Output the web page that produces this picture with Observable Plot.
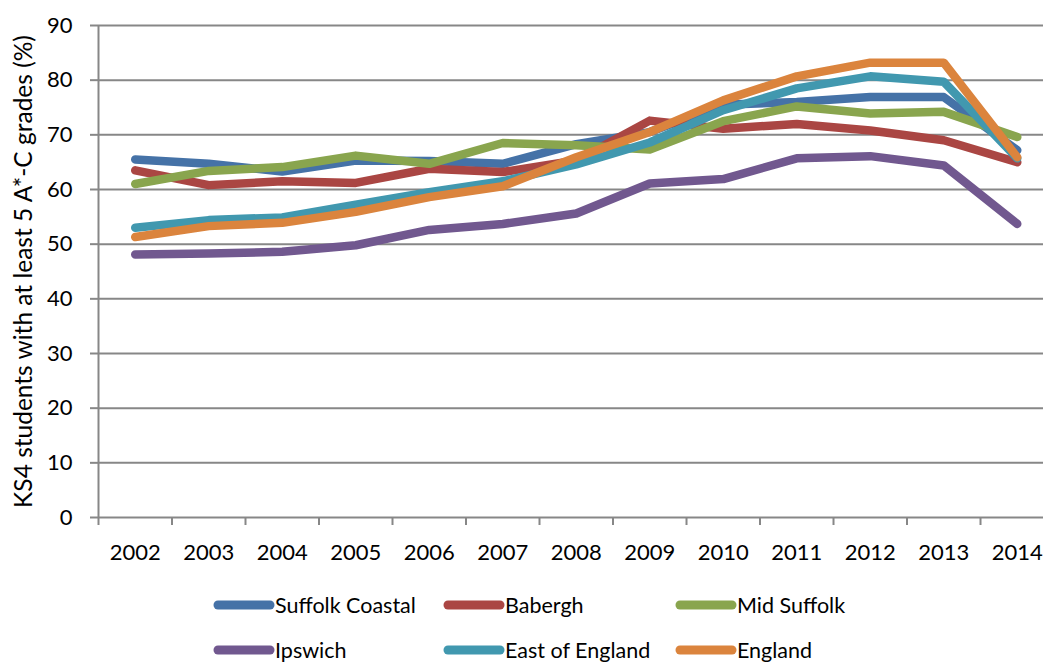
<!DOCTYPE html>
<html><head><meta charset="utf-8">
<script src="https://cdn.jsdelivr.net/npm/d3@7"></script>
<script src="https://cdn.jsdelivr.net/npm/@observablehq/plot@0.6"></script>
<style>
body{margin:0;background:#fff;font-family:Lato,sans-serif;}
#legend{position:relative;width:1043px;height:89px;}
.item{position:absolute;display:flex;align-items:center;font-size:21.5px;color:#000;height:30px;white-space:nowrap;}
.item svg{display:block;}
</style></head><body><div id="chart"></div><div id="legend"></div>
<script>
const years = [2002,2003,2004,2005,2006,2007,2008,2009,2010,2011,2012,2013,2014];
const seriesNames = ["Suffolk Coastal","Babergh","Mid Suffolk","Ipswich","East of England","England"];
const suffolkCoastal = [65.5,64.7,63.3,65.3,65.2,64.7,68.3,70.5,75.5,76.0,76.9,76.9,67.2];
const babergh        = [63.5,60.8,61.5,61.2,63.8,63.2,65.3,72.6,71.1,72.0,70.8,69.0,65.0];
const midSuffolk     = [61.0,63.4,64.1,66.2,64.7,68.5,68.1,67.3,72.5,75.2,73.9,74.2,69.6];
const ipswich        = [48.1,48.3,48.6,49.8,52.6,53.7,55.6,61.1,61.9,65.7,66.1,64.4,53.7];
const eastOfEngland  = [53.0,54.4,54.9,57.2,59.5,61.5,64.6,68.6,74.5,78.5,80.7,79.7,65.7];
const england        = [51.3,53.3,53.9,55.9,58.6,60.6,65.9,70.5,76.3,80.7,83.2,83.2,65.9];
const seriesValues = [suffolkCoastal,babergh,midSuffolk,ipswich,eastOfEngland,england];
const colors = ["#4572A7","#AA4643","#89A54E","#71588F","#4198AF","#DB843D"];
const yTicks = [0,10,20,30,40,50,60,70,80,90];
const yTitle = "KS4 students with at least 5 A*-C grades (%)";

const rows = seriesNames.flatMap((s,i)=>years.map((yr,j)=>({series:s, year:yr, value:seriesValues[i][j]})));
const boundaries = years.map(y=>y-0.5);
const grey = "#878787";

const chart = Plot.plot({
  width: 1043, height: 575,
  marginLeft: 98, marginRight: 0, marginTop: 25, marginBottom: 58,
  style: {fontFamily: "Lato, sans-serif", fontSize: "22px", color: "#000", background: "#fff", overflow: "visible"},
  x: {type: "linear", domain: [2001.5, 2014.357], axis: null},
  y: {domain: [0, 90], axis: null},
  color: {domain: seriesNames, range: colors},
  marks: [
    Plot.gridY(yTicks, {stroke: grey, strokeOpacity: 1, strokeWidth: 2}),
    Plot.ruleX([2001.5], {stroke: grey, strokeWidth: 2}),
    Plot.axisY({ticks: yTicks, tickSize: 8, tickPadding: 18, stroke: grey, strokeWidth: 2, fill: "#000", fontSize: 22, label: null}),
    Plot.axisX({ticks: boundaries, tickSize: 8, tickFormat: () => "", stroke: grey, strokeWidth: 2, label: null}),
    Plot.axisX({ticks: years, tickSize: 0, tickPadding: 27, tickFormat: d => String(d), fill: "#000", fontSize: 22, label: null}),
    Plot.text([yTitle], {text: d => d, frameAnchor: "left", textAnchor: "middle", lineAnchor: "middle", dx: -74, rotate: -90, fontSize: 24.5, fill: "#000"}),
    Plot.line(rows, {x: "year", y: "value", z: "series", stroke: "series", strokeWidth: 8.5, strokeLinecap: "round", strokeLinejoin: "round"})
  ]
});
document.getElementById("chart").appendChild(chart);

const colLeft = [213, 443, 675];
const rowTop = [15, 60];
const legend = document.getElementById("legend");
seriesNames.forEach((name, i) => {
  const item = document.createElement("div");
  item.className = "item";
  item.style.left = colLeft[i % 3] + "px";
  item.style.top = rowTop[Math.floor(i / 3)] + "px";
  item.innerHTML = `<svg width="62" height="12"><line x1="5" y1="6" x2="57" y2="6" stroke="${colors[i]}" stroke-width="9" stroke-linecap="round"/></svg><span>${name}</span>`;
  legend.appendChild(item);
});
</script>
</body></html>
